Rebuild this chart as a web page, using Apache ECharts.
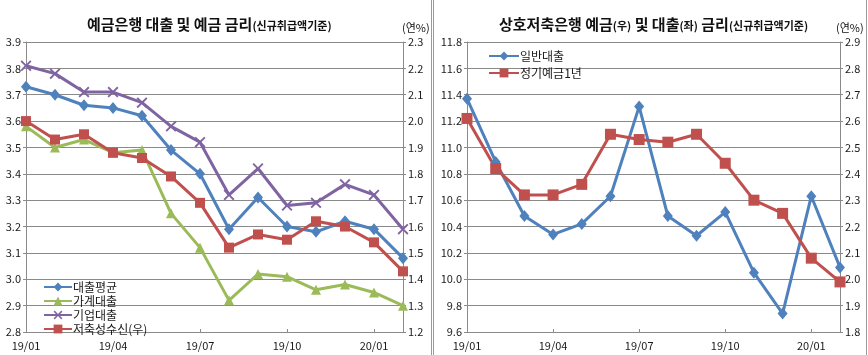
<!DOCTYPE html>
<html><head><meta charset="utf-8">
<script src="https://cdn.jsdelivr.net/npm/echarts@6/dist/echarts.min.js"></script>
<style>html,body{margin:0;padding:0;background:#fff}#c{width:868px;height:355px}</style>
</head><body><div id="c"></div>
<script>
const months = ['19/01','19/02','19/03','19/04','19/05','19/06','19/07','19/08','19/09','19/10','19/11','19/12','20/01','20/02'];
// Left chart: deposit banks (new transactions basis)
const loanAvg   = [3.73,3.70,3.66,3.65,3.62,3.49,3.40,3.19,3.31,3.20,3.18,3.22,3.19,3.08];
const household = [3.58,3.50,3.53,3.48,3.49,3.25,3.12,2.92,3.02,3.01,2.96,2.98,2.95,2.90];
const corporate = [3.81,3.78,3.71,3.71,3.67,3.58,3.52,3.32,3.42,3.28,3.29,3.36,3.32,3.19];
const savingsR  = [2.00,1.93,1.95,1.88,1.86,1.79,1.69,1.52,1.57,1.55,1.62,1.60,1.54,1.43];
// Right chart: mutual savings banks
const generalLoan = [11.37,10.89,10.48,10.34,10.42,10.63,11.31,10.48,10.33,10.51,10.05,9.74,10.63,10.09];
const deposit1y   = [2.61,2.42,2.32,2.32,2.36,2.55,2.53,2.52,2.55,2.44,2.30,2.25,2.08,1.99];
const names = ['대출평균','가계대출','기업대출','저축성수신(우)','일반대출','정기예금1년'];

const FONT = '"Noto Sans CJK KR", "Noto Sans", sans-serif';
const TXT = '#1a1a1a';
const GRID = '#8a8a8a';
const C = {blue:'#4F81BD', red:'#C0504D', green:'#9BBB59', purple:'#8064A2'};
const XSYM = 'path://M0,1.2L1.2,0L5,3.8L8.8,0L10,1.2L6.2,5L10,8.8L8.8,10L5,6.2L1.2,10L0,8.8L3.8,5Z';

function yAx(gi, min, max, interval, pos, showSplit){
  return {type:'value', gridIndex:gi, min:min, max:max, interval:interval, position:pos,
    axisLine:{show:true, lineStyle:{color:GRID, width:1}},
    axisTick:{show:true, length:3, lineStyle:{color:GRID}},
    splitLine:{show:showSplit, lineStyle:{color:GRID, width:1}},
    axisLabel:{color:TXT, fontFamily:FONT, fontSize:11, margin:5, formatter:v=>v.toFixed(1)}};
}
function xAx(gi){
  return {type:'category', gridIndex:gi, data:months, boundaryGap:false,
    axisLine:{show:true, lineStyle:{color:GRID, width:1}},
    axisTick:{show:true, inside:true, length:3, interval:2, alignWithLabel:true, lineStyle:{color:GRID}},
    axisLabel:{color:TXT, fontFamily:FONT, fontSize:11, interval:2, margin:8},
    splitLine:{show:false}};
}
function ln(name, data, color, symbol, size, xi, yi){
  return {name:name, type:'line', data:data, xAxisIndex:xi, yAxisIndex:yi,
    symbol:symbol, symbolSize:size, showAllSymbol:true,
    lineStyle:{color:color, width:3}, itemStyle:{color:color, borderWidth:0},
    emphasis:{disabled:true}, animation:false, z:3};
}
const big = {fontFamily:FONT, fontSize:15, fontWeight:'bold', color:'#111'};
const sm  = {fontFamily:FONT, fontSize:11, color:'#111', padding:[3,0,0,0]};

const chart = echarts.init(document.getElementById('c'), null, {renderer:'canvas'});
chart.setOption({
  animation:false,
  backgroundColor:'#fff',
  title:[
    {left:82, top:12, text:'{a|예금은행 대출 및 예금 금리}{b|(신규취급액기준)}',
     textStyle:{rich:{a:big, b:sm}}},
    {left:397, top:17, text:'(연%)', textStyle:{fontFamily:FONT, fontSize:11, fontWeight:'normal', color:'#111'}},
    {left:494, top:12, text:'{a|상호저축은행 예금}{b|(우)}{a| 및 대출}{b|(좌)}{a| 금리}{b|(신규취급액기준)}',
     textStyle:{rich:{a:big, b:sm}}},
    {left:831, top:17, text:'(연%)', textStyle:{fontFamily:FONT, fontSize:11, fontWeight:'normal', color:'#111'}}
  ],
  grid:[
    {left:26, right:465, top:42, bottom:23},
    {left:467, right:28, top:42, bottom:23}
  ],
  xAxis:[xAx(0), xAx(1)],
  yAxis:[
    yAx(0, 2.8, 3.9, 0.1, 'left', true),
    yAx(0, 1.2, 2.3, 0.1, 'right', false),
    yAx(1, 9.6, 11.8, 0.2, 'left', true),
    yAx(1, 1.8, 2.9, 0.1, 'right', false)
  ],
  legend:[
    {orient:'vertical', left:38, top:276, itemWidth:28, itemHeight:11, itemGap:2,
     data:[names[0],names[1],names[2],names[3]],
     textStyle:{fontFamily:FONT, fontSize:12, color:TXT, padding:[0,0,0,-4]}},
    {orient:'vertical', left:483, top:45, itemWidth:30, itemHeight:11, itemGap:5,
     data:[names[4],names[5]],
     textStyle:{fontFamily:FONT, fontSize:12, color:TXT, padding:[0,0,0,-4]}}
  ],
  series:[
    ln(names[0], loanAvg, C.blue, 'diamond', [10,12], 0, 0),
    ln(names[1], household, C.green, 'triangle', 10, 0, 0),
    ln(names[2], corporate, C.purple, XSYM, 11, 0, 0),
    ln(names[3], savingsR, C.red, 'rect', 10, 0, 1),
    ln(names[4], generalLoan, C.blue, 'diamond', [10,12], 1, 2),
    ln(names[5], deposit1y, C.red, 'rect', 11, 1, 3)
  ],
  graphic:[
    {type:'line', shape:{x1:431.5, y1:0, x2:431.5, y2:355}, style:{stroke:'#9a9a9a', lineWidth:1}, silent:true},
    {type:'line', shape:{x1:433.5, y1:0, x2:433.5, y2:355}, style:{stroke:'#9a9a9a', lineWidth:1}, silent:true},
    {type:'line', shape:{x1:866.5, y1:0, x2:866.5, y2:355}, style:{stroke:'#9a9a9a', lineWidth:1}, silent:true}
  ]
});
</script></body></html>
